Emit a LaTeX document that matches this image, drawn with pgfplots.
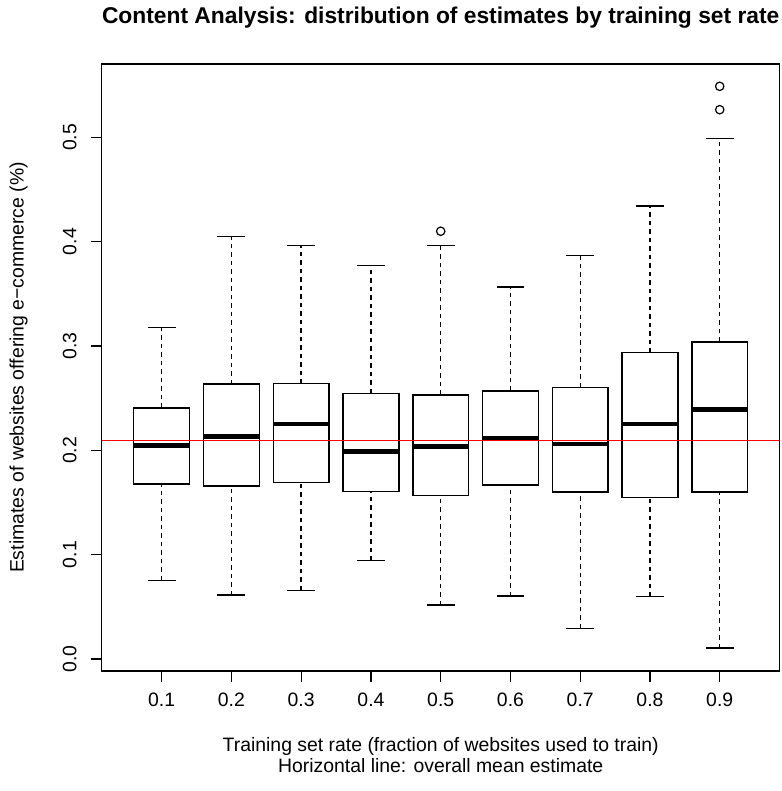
\documentclass[border=0pt]{standalone}
\usepackage{fontspec}
\setmainfont{Liberation Sans}
\usepackage{pgfplots}
\pgfplotsset{compat=1.18}

\begin{document}
\begin{tikzpicture}
\begin{axis}[
  name=ax, at={(0,0)}, anchor=south west,
  scale only axis, width=678bp, height=607bp,
  xmin=0.14, xmax=9.86, ymin=-0.0115, ymax=0.5703,
  xtick={1,2,3,4,5,6,7,8,9},
  xticklabels={0.1,0.2,0.3,0.4,0.5,0.6,0.7,0.8,0.9},
  ytick={0,0.1,0.2,0.3,0.4,0.5},
  yticklabels={0.0,0.1,0.2,0.3,0.4,0.5},
  tick align=outside, xtick pos=bottom, ytick pos=left,
  major tick length=11bp,
  tick style={black, line width=1.3bp},
  axis line style={black, line width=1.4bp},
  /pgf/number format/assume math mode=true,
  every tick label/.append style={font=\fontsize{19.4bp}{23bp}\selectfont, inner sep=0pt},
  xticklabel style={anchor=north}, xticklabel shift=11bp,
  yticklabel style={rotate=90, anchor=south}, yticklabel shift=14bp,
  unbounded coords=jump,
]
% whiskers (dashed): lower whisker to Q1, Q3 to upper whisker
\addplot[black, line width=1.4bp, dash pattern=on 4.5bp off 4bp, no marks] coordinates {
 (1,0.0754) (1,0.1676) (1,nan) (1,0.2407) (1,0.3180) (1,nan)
 (2,0.0613) (2,0.1660) (2,nan) (2,0.2634) (2,0.4049) (2,nan)
 (3,0.0658) (3,0.1689) (3,nan) (3,0.2640) (3,0.3962) (3,nan)
 (4,0.0942) (4,0.1606) (4,nan) (4,0.2545) (4,0.3774) (4,nan)
 (5,0.0517) (5,0.1565) (5,nan) (5,0.2532) (5,0.3962) (5,nan)
 (6,0.0603) (6,0.1667) (6,nan) (6,0.2570) (6,0.3566) (6,nan)
 (7,0.0294) (7,0.1600) (7,nan) (7,0.2605) (7,0.3867) (7,nan)
 (8,0.0597) (8,0.1549) (8,nan) (8,0.2937) (8,0.4342) (8,nan)
 (9,0.0105) (9,0.1600) (9,nan) (9,0.3040) (9,0.4990)
};
% whisker caps (staples)
\addplot[black, solid, line width=1.4bp, no marks] coordinates {
 (0.8,0.0754) (1.2,0.0754) (1,nan) (0.8,0.3180) (1.2,0.3180) (1,nan)
 (1.8,0.0613) (2.2,0.0613) (2,nan) (1.8,0.4049) (2.2,0.4049) (2,nan)
 (2.8,0.0658) (3.2,0.0658) (3,nan) (2.8,0.3962) (3.2,0.3962) (3,nan)
 (3.8,0.0942) (4.2,0.0942) (4,nan) (3.8,0.3774) (4.2,0.3774) (4,nan)
 (4.8,0.0517) (5.2,0.0517) (5,nan) (4.8,0.3962) (5.2,0.3962) (5,nan)
 (5.8,0.0603) (6.2,0.0603) (6,nan) (5.8,0.3566) (6.2,0.3566) (6,nan)
 (6.8,0.0294) (7.2,0.0294) (7,nan) (6.8,0.3867) (7.2,0.3867) (7,nan)
 (7.8,0.0597) (8.2,0.0597) (8,nan) (7.8,0.4342) (8.2,0.4342) (8,nan)
 (8.8,0.0105) (9.2,0.0105) (9,nan) (8.8,0.4990) (9.2,0.4990)
};
% boxes (Q1 to Q3)
\addplot[black, solid, line width=1.4bp, line cap=rect, line join=miter, no marks] coordinates {
 (0.6,0.1676) (1.4,0.1676) (1.4,0.2407) (0.6,0.2407) (0.6,0.1676) (1,nan)
 (1.6,0.1660) (2.4,0.1660) (2.4,0.2634) (1.6,0.2634) (1.6,0.1660) (2,nan)
 (2.6,0.1689) (3.4,0.1689) (3.4,0.2640) (2.6,0.2640) (2.6,0.1689) (3,nan)
 (3.6,0.1606) (4.4,0.1606) (4.4,0.2545) (3.6,0.2545) (3.6,0.1606) (4,nan)
 (4.6,0.1565) (5.4,0.1565) (5.4,0.2532) (4.6,0.2532) (4.6,0.1565) (5,nan)
 (5.6,0.1667) (6.4,0.1667) (6.4,0.2570) (5.6,0.2570) (5.6,0.1667) (6,nan)
 (6.6,0.1600) (7.4,0.1600) (7.4,0.2605) (6.6,0.2605) (6.6,0.1600) (7,nan)
 (7.6,0.1549) (8.4,0.1549) (8.4,0.2937) (7.6,0.2937) (7.6,0.1549) (8,nan)
 (8.6,0.1600) (9.4,0.1600) (9.4,0.3040) (8.6,0.3040) (8.6,0.1600)
};
% medians
\addplot[black, solid, line width=4.6bp, no marks] coordinates {
 (0.6,0.2047) (1.4,0.2047) (1,nan)
 (1.6,0.2130) (2.4,0.2130) (2,nan)
 (2.6,0.2254) (3.4,0.2254) (3,nan)
 (3.6,0.1989) (4.4,0.1989) (4,nan)
 (4.6,0.2034) (5.4,0.2034) (5,nan)
 (5.6,0.2117) (6.4,0.2117) (6,nan)
 (6.6,0.2059) (7.4,0.2059) (7,nan)
 (7.6,0.2251) (8.4,0.2251) (8,nan)
 (8.6,0.2392) (9.4,0.2392)
};
% outliers
\addplot[black, only marks, mark=o, mark size=4.2bp, mark options={solid, line width=1.2bp}] coordinates {
 (5,0.4100) (9,0.5265) (9,0.5489)
};
% overall mean estimate
\addplot[red, line width=1.4bp, no marks] coordinates {(0.14,0.2094) (9.86,0.2094)};
\end{axis}
\node[font=\fontsize{22.8bp}{27bp}\selectfont\bfseries] at ([yshift=46bp]ax.north) {Content Analysis: distribution of estimates by training set rate};
\node[font=\fontsize{19.4bp}{23bp}\selectfont] at ([yshift=-75bp]ax.south) {Training set rate (fraction of websites used to train)};
\node[font=\fontsize{19.4bp}{23bp}\selectfont] at ([yshift=-95bp]ax.south) {Horizontal line: overall mean estimate};
\node[font=\fontsize{19.4bp}{23bp}\selectfont, rotate=90] at ([xshift=-83bp]ax.west) {Estimates of websites offering e−commerce (\%)};
\pgfresetboundingbox
\path[use as bounding box] ([xshift=-101.7bp, yshift=-120bp]ax.south west) rectangle ([xshift=2.3bp, yshift=64bp]ax.north east);
\end{tikzpicture}
\end{document}
